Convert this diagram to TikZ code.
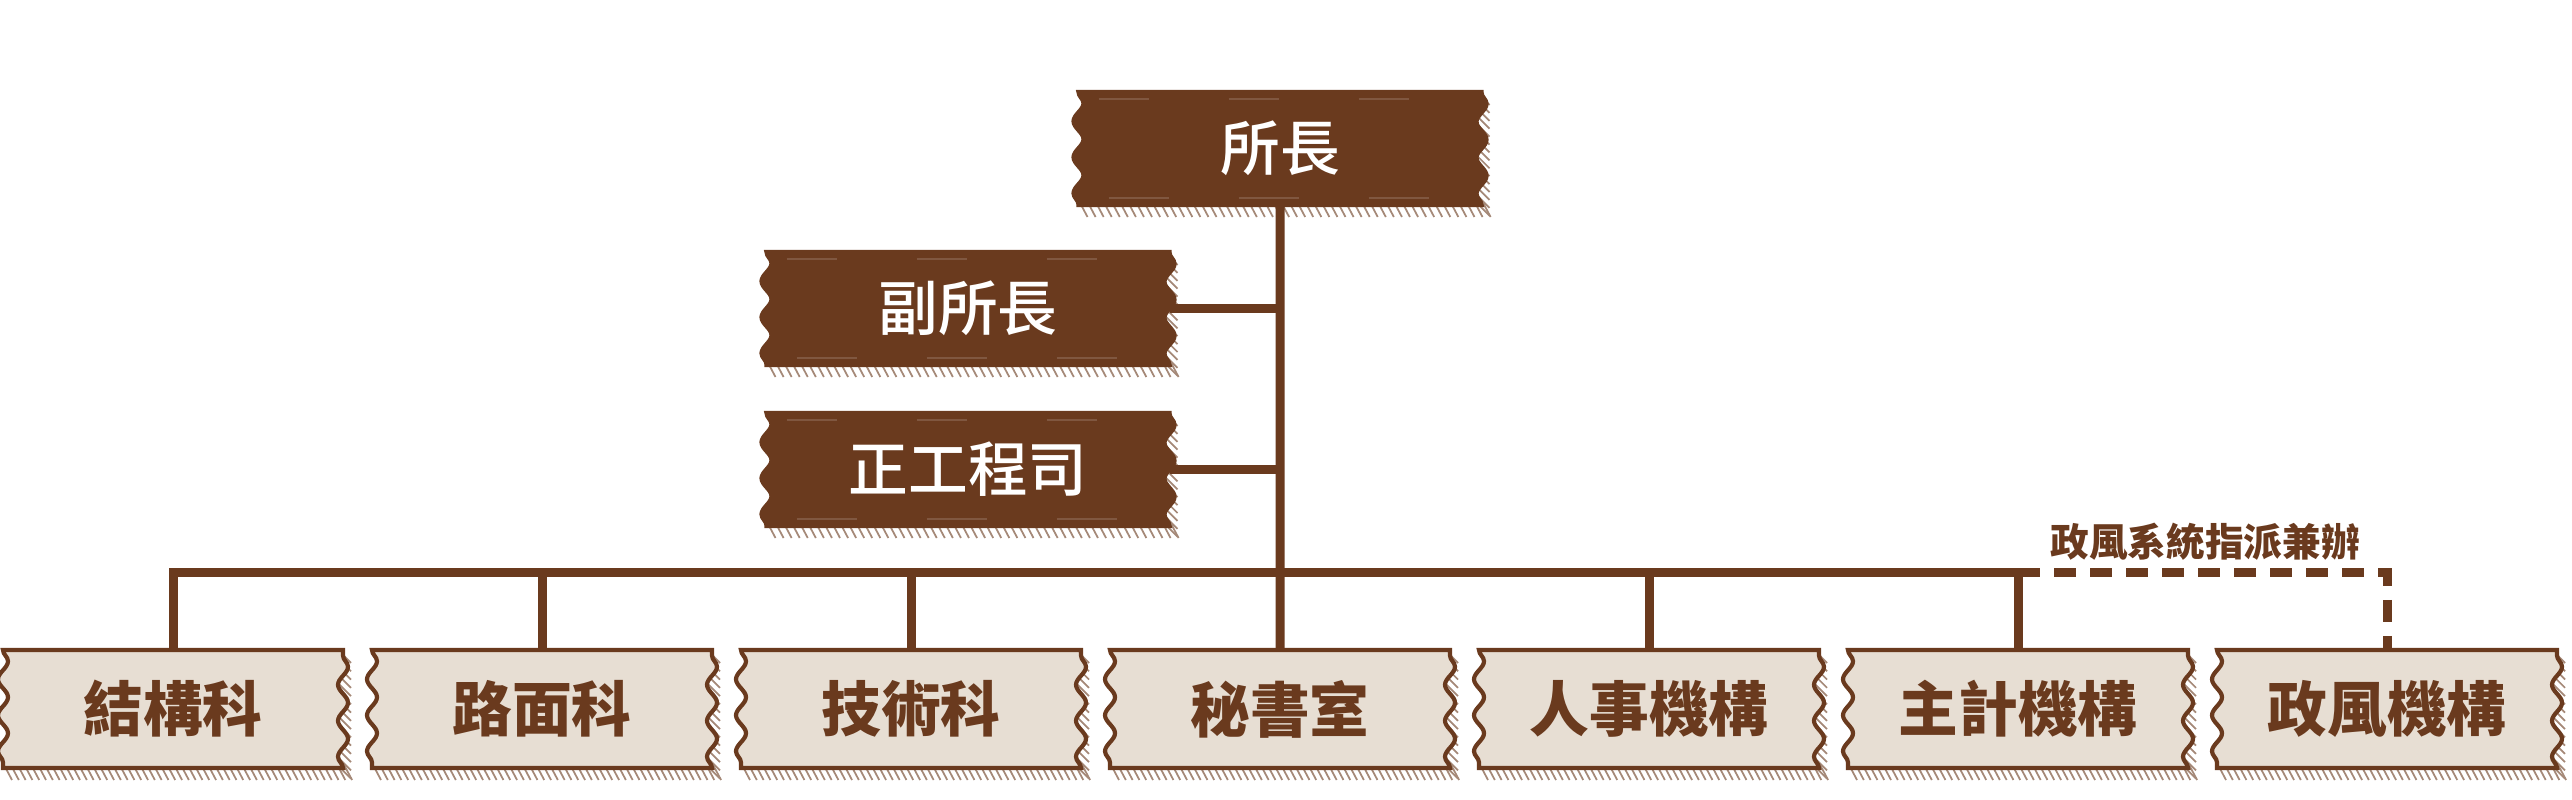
\documentclass[tikz,border=0pt]{standalone}
\usepackage{fontspec}
\newfontfamily\cjk{Noto Sans CJK TC}
\newfontfamily\cjkmed{Noto Sans CJK TC}[UprightFont=* Medium]
\usetikzlibrary{positioning,calc,decorations.pathmorphing,backgrounds}

\definecolor{tapebrown}{RGB}{106,58,30}
\definecolor{tapepaper}{RGB}{231,222,211}

% tape look behind a node: hatched shadow, wavy torn sides, faint streaks
\newcommand{\tape}[4]{%
  \foreach \q in {0,0.02,...,1.001}
    \draw[tapebrown!60, line width=0.5pt] ($(#1.south west)!\q!(#1.south east)+(0,0.05)$) -- ++(0.09,-0.17);
  \foreach \q in {0,0.07,...,1.001}
    \draw[tapebrown!60, line width=0.5pt] ($(#1.north east)!\q!(#1.south east)+(-0.05,0)$) -- ++(0.13,-0.13);
  \filldraw[fill=#2, draw=#3, line width=1.2pt]
    (#1.north west) decorate[decoration={snake, amplitude=0.05cm, segment length=0.36cm}]{-- (#1.south west)}
    -- (#1.south east) decorate[decoration={snake, amplitude=0.05cm, segment length=0.36cm}]{-- (#1.north east)}
    -- cycle;
  \draw[#4, line width=0.7pt, dash pattern=on 0.5cm off 0.8cm] ($(#1.north west)+(0.2,-0.07)$) -- ($(#1.north east)+(-0.2,-0.07)$);
  \draw[#4, line width=0.7pt, dash pattern=on 0.6cm off 0.7cm] ($(#1.south west)+(0.3,0.07)$) -- ($(#1.south east)+(-0.2,0.07)$);
}

\begin{document}
\begin{tikzpicture}[
  tapedark/.style={minimum width=4.03cm, minimum height=1.13cm, inner sep=0pt, outer sep=0pt,
                   text=white, font=\cjkmed\fontsize{17}{20}\selectfont},
  tapelight/.style={minimum width=3.4cm, minimum height=1.18cm, inner sep=0pt, outer sep=0pt,
                    text=tapebrown, font=\cjk\bfseries\fontsize{17}{20}\selectfont},
  link/.style={draw=tapebrown, line width=0.09cm},
  note/.style={text=tapebrown, font=\cjk\bfseries\fontsize{11}{13}\selectfont}
]
\useasboundingbox (0,0) rectangle (25.72,8);

% ====== top ======
\node[tapedark] (chief) at (12.80,6.515) {所長};
\node[tapedark] (deputy) at (9.68,4.915) {副所長};
\node[tapedark, below=0.48cm of deputy] (engineer) {正工程司};

% ====== units ======
\node[tapelight] (struct) at (1.73,0.91) {結構科};
\node[tapelight, right=0.29cm of struct] (pave) {路面科};
\node[tapelight, right=0.29cm of pave] (tech) {技術科};
\node[tapelight, right=0.29cm of tech] (secr) {秘書室};
\node[tapelight, right=0.29cm of secr] (pers) {人事機構};
\node[tapelight, right=0.29cm of pers] (acct) {主計機構};
\node[tapelight, right=0.29cm of acct] (ethics) {政風機構};

\begin{scope}[on background layer]
  \foreach \n in {chief,deputy,engineer}
    \tape{\n}{tapebrown}{tapebrown}{tapebrown!85!white};
  \foreach \n in {struct,pave,tech,secr,pers,acct,ethics}
    \tape{\n}{tapepaper}{tapebrown}{tapepaper};
\end{scope}

% ====== lines ======
\coordinate (bus) at (12.80,2.27);
\draw[link] (chief.south) -- (secr.north);
\draw[link] (deputy.east) -- (deputy.east -| chief.south);
\draw[link] (engineer.east) -- (engineer.east -| chief.south);
\draw[link] (struct.north) -- (struct.north |- bus) -- (acct.north |- bus) -- (acct.north);
\foreach \n in {pave,tech,pers}
  \draw[link] (\n.north) -- (\n.north |- bus);
\draw[link, dash pattern=on 0.22cm off 0.14cm] (acct.north |- bus) -- (ethics.north |- bus) -- (ethics.north);

\node[note] (ethicsnote) at (22.05,2.58) {政風系統指派兼辦};

\end{tikzpicture}
\end{document}
